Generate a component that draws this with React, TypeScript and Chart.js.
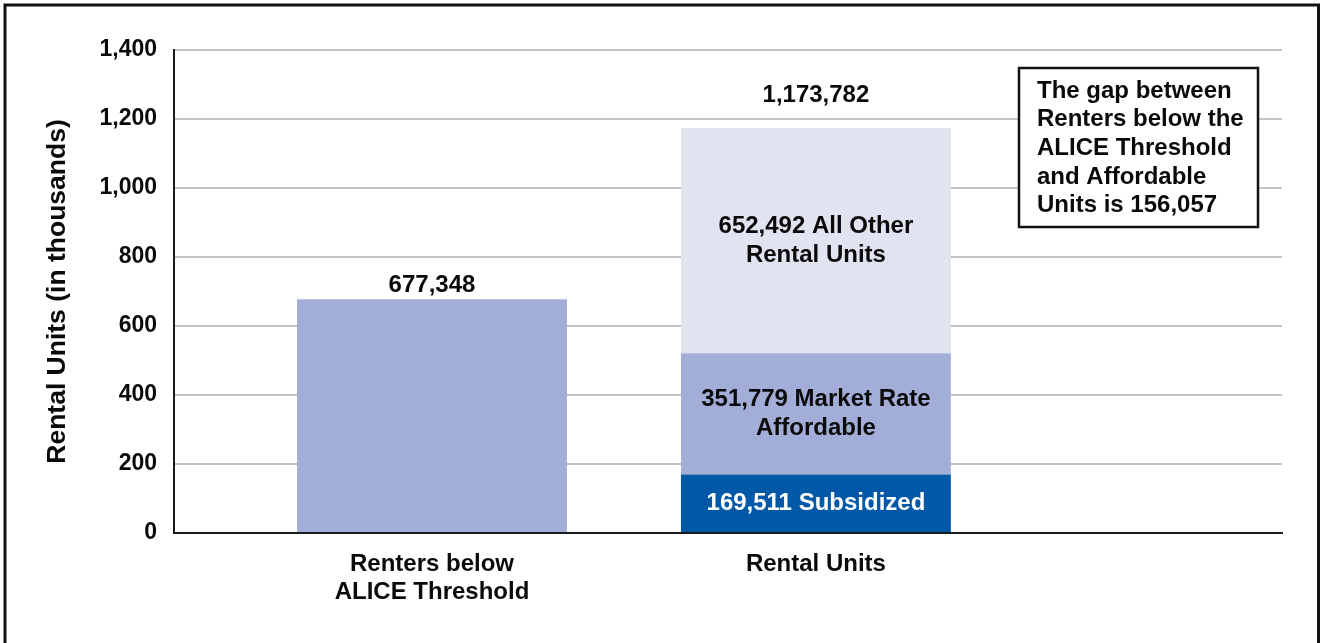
import React, { useEffect, useRef } from "react";
import { Chart, registerables } from "chart.js";

Chart.register(...registerables);

// ---- data ----
const categories: string[][] = [["Renters below", "ALICE Threshold"], ["Rental Units"]];
const yTickValues = [0, 200, 400, 600, 800, 1000, 1200, 1400];
const renters: (number | null)[] = [677.348, null];
const subsidized: (number | null)[] = [null, 169.511];
const marketRate: (number | null)[] = [null, 351.779];
const allOther: (number | null)[] = [null, 652.492];
const subsidizedLines = ["Subsidized"];
const marketRateLines = ["Market Rate", "Affordable"];
const allOtherLines = ["All Other", "Rental Units"];
const gapNote = ["The gap between", "Renters below the", "ALICE Threshold", "and Affordable", "Units is 156,057"];

// ---- style ----
const FONT = "'Liberation Sans', Arial, Helvetica, sans-serif";
const LIGHT_BLUE = "#A3AED8";
const DARK_BLUE = "#0058A7";
const PALE_BLUE = "#E1E3F1";
const TEXT = "#0a0a0a";
const totalOffsets = [14, 33];

const fmt = (v: number) => Math.round(v * 1000).toLocaleString("en-US");

const toPoints = (arr: (number | null)[]) =>
  arr
    .map((y, i) => (y == null ? null : { x: i + 1, y }))
    .filter((p) => p !== null) as { x: number; y: number }[];

const labelPlugin = {
  id: "barLabels",
  afterDatasetsDraw(chart: any) {
    const ctx = chart.ctx as CanvasRenderingContext2D;
    ctx.save();
    ctx.textAlign = "center";
    ctx.textBaseline = "middle";
    const lh = 29;
    chart.data.datasets.forEach((ds: any, di: number) => {
      if (!ds.labelLines) return;
      const meta = chart.getDatasetMeta(di);
      meta.data.forEach((el: any, j: number) => {
        const raw = ds.data[j];
        if (!raw) return;
        const lines = [fmt(raw.y) + " " + ds.labelLines[0], ...ds.labelLines.slice(1)];
        const cy = (el.y + el.base) / 2;
        ctx.fillStyle = ds.labelColor || TEXT;
        ctx.font = `bold 24px ${FONT}`;
        lines.forEach((ln: string, k: number) => {
          ctx.fillText(ln, el.x, cy + (k - (lines.length - 1) / 2) * lh);
        });
      });
    });
    categories.forEach((_, ci) => {
      let total = 0;
      let top = Infinity;
      let x = 0;
      chart.data.datasets.forEach((ds: any, di: number) => {
        const meta = chart.getDatasetMeta(di);
        ds.data.forEach((p: any, j: number) => {
          if (p.x === ci + 1) {
            total += p.y;
            const el = meta.data[j];
            if (el.y < top) top = el.y;
            x = el.x;
          }
        });
      });
      if (total > 0) {
        ctx.fillStyle = TEXT;
        ctx.font = `bold 24px ${FONT}`;
        ctx.fillText(fmt(total), x, top - totalOffsets[ci]);
      }
    });
    ctx.restore();
  },
};

const framePlugin = {
  id: "frameAndNote",
  beforeDraw(chart: any) {
    const ctx = chart.ctx as CanvasRenderingContext2D;
    ctx.save();
    ctx.fillStyle = "#ffffff";
    ctx.fillRect(0, 0, chart.width, chart.height);
    ctx.restore();
  },
  afterDraw(chart: any) {
    const ctx = chart.ctx as CanvasRenderingContext2D;
    ctx.save();
    ctx.strokeStyle = "#111111";
    ctx.lineWidth = 3;
    ctx.strokeRect(5, 5, 1313.5, 700);
    const bx = 1019, by = 68, bw = 239, bh = 159;
    ctx.fillStyle = "#ffffff";
    ctx.fillRect(bx, by, bw, bh);
    ctx.lineWidth = 2.5;
    ctx.strokeRect(bx, by, bw, bh);
    ctx.fillStyle = TEXT;
    ctx.font = `bold 24px ${FONT}`;
    ctx.textAlign = "left";
    ctx.textBaseline = "middle";
    gapNote.forEach((ln, k) => ctx.fillText(ln, 1037, 91 + k * 28.7));
    ctx.restore();
  },
};

export default function App() {
  const ref = useRef<HTMLCanvasElement>(null);
  useEffect(() => {
    if (!ref.current) return;
    const chart = new Chart(ref.current, {
      type: "bar",
      data: {
        datasets: [
          { label: "Renters below ALICE Threshold", data: toPoints(renters), backgroundColor: LIGHT_BLUE },
          { label: "Subsidized", data: toPoints(subsidized), backgroundColor: DARK_BLUE, labelLines: subsidizedLines, labelColor: "#ffffff" } as any,
          { label: "Market Rate Affordable", data: toPoints(marketRate), backgroundColor: LIGHT_BLUE, labelLines: marketRateLines } as any,
          { label: "All Other Rental Units", data: toPoints(allOther), backgroundColor: PALE_BLUE, labelLines: allOtherLines } as any,
        ],
      },
      options: {
        responsive: false,
        animation: false,
        layout: { padding: { left: 0, top: 50, right: 43, bottom: 0 } },
        datasets: { bar: { categoryPercentage: 0.703, barPercentage: 1, borderWidth: 0 } },
        plugins: { legend: { display: false }, tooltip: { enabled: false }, title: { display: false } },
        scales: {
          x: {
            type: "linear",
            min: 0.328,
            max: 3.214,
            offset: false,
            bounds: "data",
            stacked: true,
            grid: { display: false, drawTicks: false, offset: false },
            border: { display: true, color: "#1a1a1a", width: 2 },
            afterBuildTicks: (s: any) => {
              s.ticks = categories.map((_, i) => ({ value: i + 1 }));
            },
            afterFit: (s: any) => {
              s.height = 110;
            },
            ticks: {
              autoSkip: false,
              maxRotation: 0,
              padding: 18,
              color: TEXT,
              font: { family: FONT, size: 24, weight: "bold", lineHeight: 1.15 },
              callback: (_v: any, i: number) => categories[i],
            },
          },
          y: {
            type: "linear",
            min: 0,
            max: 1400,
            stacked: true,
            afterBuildTicks: (s: any) => {
              s.ticks = yTickValues.map((v) => ({ value: v }));
            },
            afterFit: (s: any) => {
              s.width = 174;
            },
            grid: { color: "#C4C4C4", lineWidth: 2, drawTicks: false },
            border: { display: true, color: "#1a1a1a", width: 2 },
            ticks: {
              padding: 17,
              color: TEXT,
              font: { family: FONT, size: 23, weight: "bold" },
              callback: (v: any) => Number(v).toLocaleString("en-US"),
            },
            title: {
              display: true,
              text: "Rental Units (in thousands)",
              color: TEXT,
              font: { family: FONT, size: 26.5, weight: "bold", lineHeight: 1.2 },
              padding: { top: 41.5, bottom: 0 },
            },
          },
        },
      },
      plugins: [framePlugin, labelPlugin],
    } as any);
    return () => chart.destroy();
  }, []);
  return (
    <div style={{ position: "absolute", left: 0, top: 0, width: 1325, height: 643, overflow: "hidden" }}>
      <canvas ref={ref} width={1325} height={643} style={{ display: "block" }} />
    </div>
  );
}
